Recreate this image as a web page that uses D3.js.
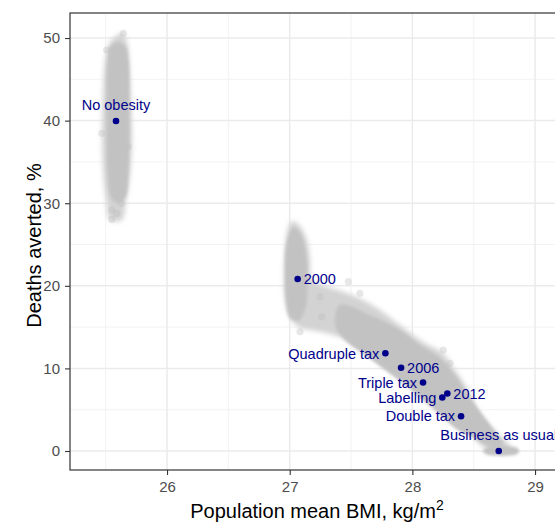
<!DOCTYPE html>
<html>
<head>
<meta charset="utf-8">
<script src="https://cdn.jsdelivr.net/npm/d3@7"></script>
<style>
  body { margin: 0; background: #fff; }
  svg { display: block; font-family: "Liberation Sans", Arial, sans-serif; }
</style>
</head>
<body>
<svg id="chart" width="555" height="525"></svg>
<script>
// axis ticks
const tickX = [26, 27, 28, 29];
const tickY = [0, 10, 20, 30, 40, 50];
const minorX = [25.5, 26.5, 27.5, 28.5];
const minorY = [5, 15, 25, 35, 45];

// labelled scenarios (mean BMI, % deaths averted)
const scenarios = ["No obesity", "2000", "Quadruple tax", "2006", "Triple tax", "Labelling", "2012", "Double tax", "Business as usual"];
const scenarioBmi = [25.584, 27.065, 27.780, 27.908, 28.087, 28.244, 28.285, 28.397, 28.704];
const scenarioDeaths = [39.95, 20.82, 11.83, 10.08, 8.29, 6.48, 6.96, 4.21, 0];

// simulation clouds, outlines as [bmi, deaths]
const cloudNoObesityOuter = [[25.633, 50.61], [25.674, 49.52], [25.690, 47.34], [25.707, 42.49], [25.715, 37.65], [25.698, 33.41], [25.666, 30.39], [25.633, 27.97], [25.535, 27.97], [25.503, 30.39], [25.478, 34.02], [25.470, 38.86], [25.478, 43.70], [25.495, 47.34], [25.535, 49.52], [25.584, 50.24]];
const cloudNoObesityCore = [[25.600, 49.50], [25.660, 49.00], [25.685, 47.34], [25.692, 42.49], [25.692, 37.65], [25.684, 33.41], [25.660, 30.70], [25.600, 30.00], [25.545, 30.70], [25.516, 33.41], [25.508, 37.65], [25.508, 42.49], [25.516, 47.34], [25.540, 49.00]];
const cloudTrendOuter = [[27.019, 27.85], [27.084, 27.24], [27.141, 25.54], [27.166, 23.12], [27.182, 20.70], [27.288, 19.98], [27.467, 19.13], [27.598, 18.28], [27.736, 17.07], [27.899, 15.25], [28.087, 13.20], [28.250, 11.86], [28.331, 10.17], [28.445, 7.63], [28.527, 5.21], [28.609, 3.51], [28.715, 1.82], [28.796, 0.61], [28.755, -0.12], [28.592, 0.36], [28.470, 2.06], [28.364, 2.91], [28.283, 4.72], [28.168, 6.05], [27.981, 8.47], [27.818, 10.41], [27.736, 11.02], [27.598, 12.23], [27.467, 13.44], [27.329, 14.16], [27.166, 14.65], [27.084, 14.89], [27.003, 16.10], [26.962, 18.28], [26.954, 21.31], [26.962, 24.33], [26.978, 26.51]];
const cloud2000Core = [[27.030, 27.10], [27.090, 26.30], [27.135, 23.73], [27.145, 20.10], [27.130, 17.40], [27.075, 15.80], [27.005, 16.10], [26.970, 18.28], [26.962, 21.91], [26.972, 24.94]];
const cloudTrendCore = [[27.410, 17.68], [27.655, 16.46], [27.899, 14.65], [28.062, 12.83], [28.226, 11.26], [28.348, 9.20], [28.454, 6.78], [28.552, 4.72], [28.674, 2.30], [28.739, 0.85], [28.633, 0.61], [28.470, 1.82], [28.348, 2.78], [28.226, 4.36], [28.103, 5.93], [27.940, 7.99], [27.777, 9.81], [27.614, 11.62], [27.451, 13.44], [27.370, 15.25]];
const cloudBau = [[28.575, 0], [28.60, 0.4], [28.85, 0.4], [28.87, 0], [28.85, -0.4], [28.60, -0.4]];

// stray simulation points
const strayBmi = [25.644, 25.508, 25.468, 25.685, 25.631, 25.549, 25.590, 25.549, 27.478, 27.573, 27.247, 27.261, 27.084, 28.252, 28.307];
const strayDeaths = [50.57, 48.55, 38.46, 36.84, 29.99, 29.18, 28.78, 28.05, 20.50, 19.09, 18.68, 16.26, 14.44, 12.23, 10.62];

const svg = d3.select("#chart");
const pLeft = 70, pRight = 564, pTop = 13, pBottom = 470;

const x = d3.scaleLinear().domain([25.209, 29.236]).range([pLeft, pRight]);
const y = d3.scaleLinear().domain([-2.3, 53.03]).range([pBottom, pTop]);

const defs = svg.append("defs");
defs.append("clipPath").attr("id", "panel")
  .append("rect").attr("x", pLeft).attr("y", pTop)
  .attr("width", pRight - pLeft).attr("height", pBottom - pTop);
defs.append("filter").attr("id", "soft").attr("x", "-20%").attr("y", "-20%").attr("width", "140%").attr("height", "140%")
  .append("feGaussianBlur").attr("stdDeviation", 2.4);
defs.append("filter").attr("id", "softer").attr("x", "-20%").attr("y", "-20%").attr("width", "140%").attr("height", "140%")
  .append("feGaussianBlur").attr("stdDeviation", 1.6);

// grid
const grid = svg.append("g");
grid.selectAll(".mx").data(minorX).enter().append("line")
  .attr("x1", d => x(d)).attr("x2", d => x(d)).attr("y1", pTop).attr("y2", pBottom)
  .attr("stroke", "#f0f0f0").attr("stroke-width", 0.9);
grid.selectAll(".my").data(minorY).enter().append("line")
  .attr("y1", d => y(d)).attr("y2", d => y(d)).attr("x1", pLeft).attr("x2", pRight)
  .attr("stroke", "#f0f0f0").attr("stroke-width", 0.9);
grid.selectAll(".gx").data(tickX).enter().append("line")
  .attr("x1", d => x(d)).attr("x2", d => x(d)).attr("y1", pTop).attr("y2", pBottom)
  .attr("stroke", "#ebebeb").attr("stroke-width", 1.5);
grid.selectAll(".gy").data(tickY).enter().append("line")
  .attr("y1", d => y(d)).attr("y2", d => y(d)).attr("x1", pLeft).attr("x2", pRight)
  .attr("stroke", "#ebebeb").attr("stroke-width", 1.5);

// clouds
const area = d3.line().x(d => x(d[0])).y(d => y(d[1])).curve(d3.curveCatmullRomClosed);
const clouds = svg.append("g").attr("clip-path", "url(#panel)");
const halo = clouds.append("g").attr("filter", "url(#soft)");
[cloudNoObesityOuter, cloudTrendOuter].forEach(c => {
  halo.append("path").attr("d", area(c)).attr("fill", "#d3d3d3");
});
const core = clouds.append("g").attr("filter", "url(#softer)");
[cloudNoObesityCore, cloud2000Core, cloudTrendCore, cloudBau].forEach(c => {
  core.append("path").attr("d", area(c)).attr("fill", "#c2c2c2");
});
clouds.selectAll(".stray").data(strayBmi).enter().append("circle")
  .attr("cx", d => x(d)).attr("cy", (d, i) => y(strayDeaths[i]))
  .attr("r", 3.6).attr("fill", "#bdbdbd").attr("opacity", 0.35);

// axes
const xAxis = svg.append("g").attr("transform", `translate(0,${pBottom})`)
  .call(d3.axisBottom(x).tickValues(tickX).tickFormat(d3.format("d")).tickSize(5).tickPadding(6));
const yAxis = svg.append("g").attr("transform", `translate(${pLeft},0)`)
  .call(d3.axisLeft(y).tickValues(tickY).tickFormat(d3.format("d")).tickSize(5).tickPadding(5));
[xAxis, yAxis].forEach(a => {
  a.select(".domain").remove();
  a.selectAll("line").attr("stroke", "#333").attr("stroke-width", 1.1);
  a.selectAll("text").attr("fill", "#4d4d4d").style("font-size", "15px")
    .style("font-family", "'Liberation Sans', Arial, sans-serif");
});

// panel border
svg.append("rect").attr("x", pLeft).attr("y", pTop)
  .attr("width", pRight - pLeft).attr("height", pBottom - pTop)
  .attr("fill", "none").attr("stroke", "#333").attr("stroke-width", 1.2);

// scenario points and labels
const side = { "No obesity": "above", "Business as usual": "above", "2000": "right", "2006": "right", "2012": "right" };
const pts = svg.append("g");
scenarios.forEach((name, i) => {
  const cx = x(scenarioBmi[i]), cy = y(scenarioDeaths[i]);
  pts.append("circle").attr("cx", cx).attr("cy", cy).attr("r", 3.3).attr("fill", "#00008b");
  const s = side[name] || "left";
  const t = pts.append("text").text(name).attr("fill", "#00008b").style("font-size", "14.5px");
  if (s === "above") {
    t.attr("x", cx).attr("y", cy - 11).attr("text-anchor", "middle");
  } else if (s === "right") {
    t.attr("x", cx + 6).attr("y", cy).attr("dy", "0.36em");
  } else {
    t.attr("x", cx - 6).attr("y", cy).attr("dy", "0.36em").attr("text-anchor", "end");
  }
});

// axis titles
const xt = svg.append("text").attr("x", (pLeft + pRight) / 2).attr("y", 518)
  .attr("text-anchor", "middle").attr("fill", "#000").style("font-size", "20px");
xt.append("tspan").text("Population mean BMI, kg/m");
xt.append("tspan").text("2").style("font-size", "14px").attr("dy", -8);

svg.append("text").attr("transform", `translate(41,${(pTop + pBottom) / 2 + 4}) rotate(-90)`)
  .attr("text-anchor", "middle").attr("fill", "#000").style("font-size", "20px")
  .text("Deaths averted, %");
</script>
</body>
</html>
